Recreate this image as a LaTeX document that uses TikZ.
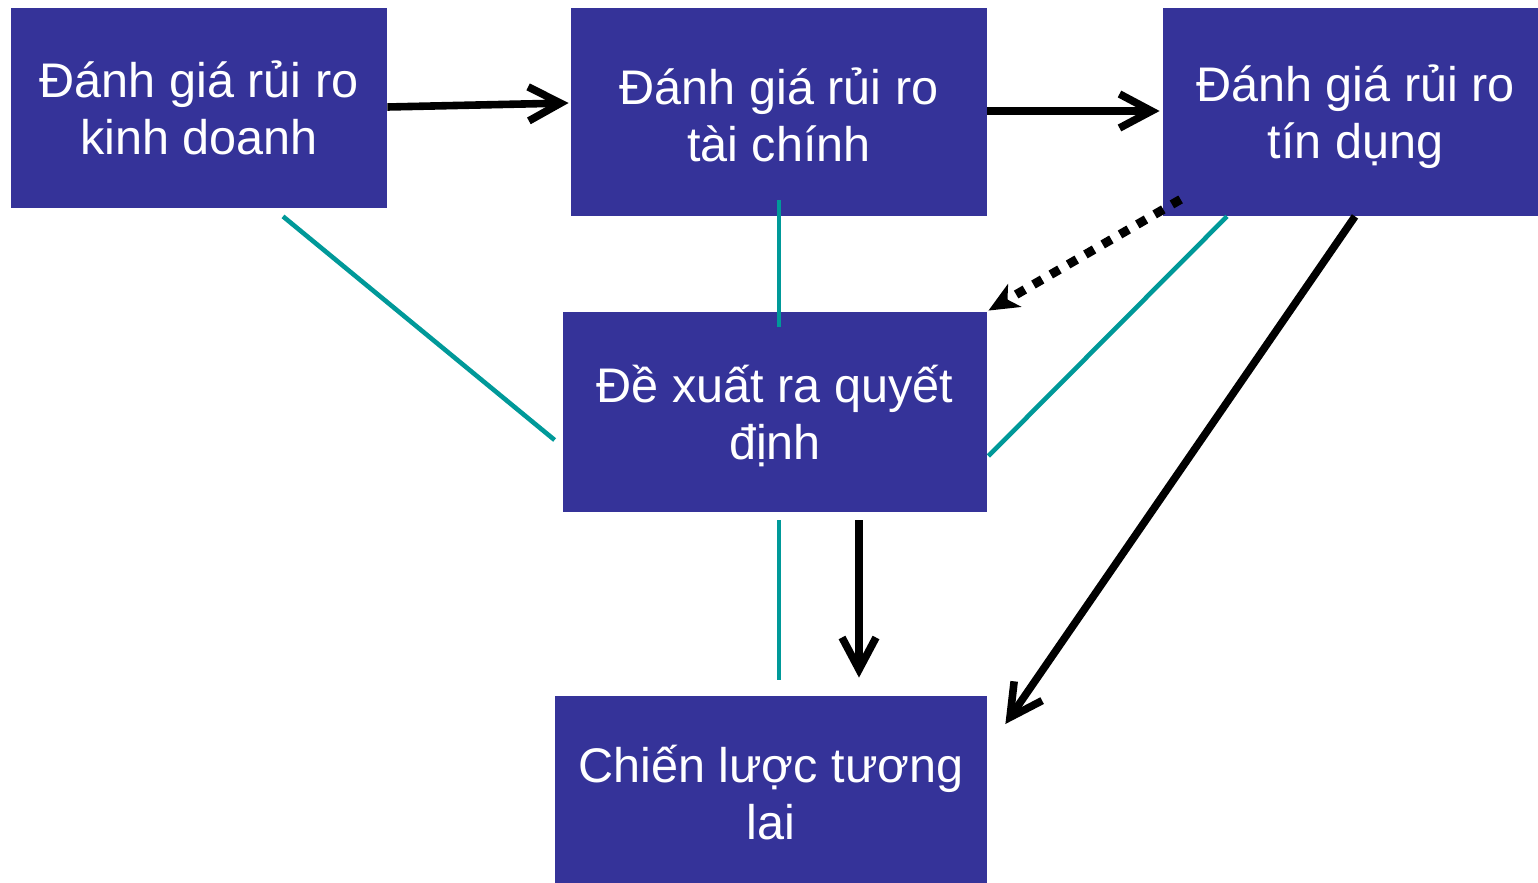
\documentclass[tikz,border=0pt]{standalone}
\usepackage{fontspec}
\setmainfont{Liberation Sans}
\usetikzlibrary{arrows.meta,calc}
\definecolor{boxblue}{HTML}{353399}
\definecolor{linkteal}{HTML}{009999}
\begin{document}
\begin{tikzpicture}[x=0.5pt,y=-0.5pt,
  box/.style={fill=boxblue, draw=none, inner sep=0pt},
  caption/.style={text=white, align=center, inner sep=0pt,
    font=\fontsize{24.3pt}{28.5pt}\selectfont},
  link/.style={draw=linkteal, line width=2.3pt},
  flow/.style={draw=black, line width=3.8pt,
    -{Straight Barb[length=16pt,width=17pt,line width=3.8pt]}},
  hint/.style={draw=black, line width=4.5pt, dash pattern=on 5pt off 5pt,
    -{Stealth[length=15pt,width=13pt,inset=4pt]}}]
\useasboundingbox (0,0) rectangle (1538,883);

% the five stages
\node[box, minimum width=188pt, minimum height=100pt,
  label={[caption]center:{Đánh giá rủi ro\\kinh doanh}}] (kd) at (199,108) {};
\node[box, minimum width=208pt, minimum height=104pt,
  label={[caption, yshift=-1.5pt]center:{Đánh giá rủi ro\\tài chính}}] (tc) at (779,112) {};
\node[box, minimum width=187.5pt, minimum height=104pt,
  label={[caption, xshift=2.5pt, yshift=-2.5pt]center:{Đánh giá rủi ro\\tín dụng}}] (td) at (1350.5,112) {};
\node[box, minimum width=212pt, minimum height=100pt,
  label={[caption, yshift=-2pt]center:{Đề xuất ra quyết\\định}}] (qd) at (775,412) {};
\node[box, minimum width=216pt, minimum height=93.5pt,
  label={[caption, yshift=-1.5pt]center:{Chiến lược tương\\lai}}] (cl) at (771,789.5) {};

% teal links into the decision stage
\draw[link] ($(kd.south)+(84,8)$) -- ($(qd.west)+(-8,28)$);
\draw[link] ($(tc.south)+(0,-16)$) -- ($(qd.north)+(4,15)$);
\draw[link] ($(td.south)+(-123.5,0)$) -- ($(qd.east)+(1,44)$);
\draw[link] ($(qd.south)+(4,8)$) -- ($(cl.north)+(8,-16)$);

% black flow arrows
\draw[flow] ($(kd.east)+(0,-1)$) -- ($(tc.west)+(-2,-9)$);
\draw[flow] ($(tc.east)+(0,-1)$) -- ($(td.west)+(-3,-1)$);
\draw[flow] ($(td.south)+(4.5,0)$) -- ($(cl.east)+(18,-65.5)$);
\draw[flow] ($(qd.south)+(84,8)$) -- ($(cl.north)+(88,-18)$);

% dotted feedback arrow
\draw[hint] ($(td.south west)+(18,-17)$) -- ($(qd.north east)+(1,-1)$);
\end{tikzpicture}
\end{document}
